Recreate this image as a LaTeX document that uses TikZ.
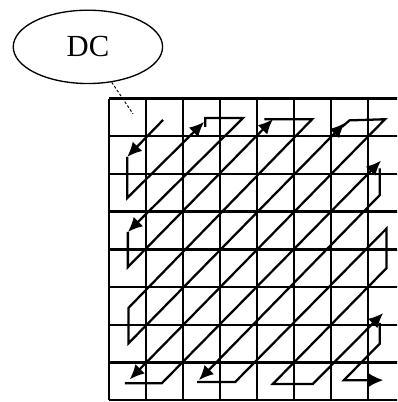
\documentclass[tikz,border=0pt]{standalone}
\usepackage{fontspec}
\setmainfont{Liberation Serif}
\usetikzlibrary{shapes.geometric,arrows.meta}

\begin{document}
\begin{tikzpicture}[x={(27.75pt,0pt)}, y={(0pt,-28.275pt)},
		gridline/.style={line width=1.8pt},
		scan/.style={line width=1.7pt, line join=miter},
		scanarrow/.style={scan, -{Latex[length=11pt,width=10pt]}}]

		% --- Frame ---
		\useasboundingbox (-2.946,-2.613) rectangle (7.784,8.050);
		\clip (-2.946,-2.613) rectangle (7.784,8.050);

		% --- DC label ---
		\node[ellipse, draw, line width=1pt, minimum width=112pt, minimum height=55pt, inner sep=0pt, font=\fontsize{23}{26}\selectfont] (dc) at (-0.57,-1.37) {DC};
		\coordinate (dcend) at (0.65,0.41);
		\draw[dash pattern=on 2pt off 1.5pt, line width=0.7pt] (dc) -- (dcend);

		% --- Grid ---
		\foreach \i in {0,...,8} {
			\draw[gridline] (\i,0) -- (\i,8);
			\draw[gridline] (0,\i) -- (8,\i);
		}

		% --- Zigzag scan ---
		% first column / first row
		\draw[scanarrow] (1.46,0.57) -- (0.49,1.55);
		\draw[scanarrow] (0.49,1.55) -- (0.49,2.64) -- (2.57,0.62);
		\draw[scanarrow] (2.6,0.75) -- (2.6,0.52) -- (3.62,0.52) -- (0.51,3.54);
		\draw[scanarrow] (0.51,3.54) -- (0.51,4.47) -- (4.43,0.55);
		\draw[scanarrow] (4.2,0.55) -- (5.49,0.55) -- (0.53,5.55) -- (0.53,6.49) -- (6.37,0.65);
		\draw[scanarrow] (6.3,0.75) -- (6.5,0.58) -- (7.46,0.55) -- (0.56,7.45);

		% last row / last column
		\draw[scanarrow] (0.43,7.55) -- (1.43,7.55) -- (7.35,1.65);
		\draw[scanarrow] (7.32,1.85) -- (7.32,2.56) -- (2.43,7.47);
		\draw[scanarrow] (2.38,7.52) -- (3.41,7.52) -- (7.5,3.45) -- (7.5,4.5) -- (4.43,7.57) -- (5.51,7.57) -- (7.41,5.69);
		\draw[scan, -{Latex[length=12pt,width=12pt]}] (7.32,5.95) -- (7.32,6.5) -- (6.35,7.47) -- (7.41,7.47);

\end{tikzpicture}
\end{document}
